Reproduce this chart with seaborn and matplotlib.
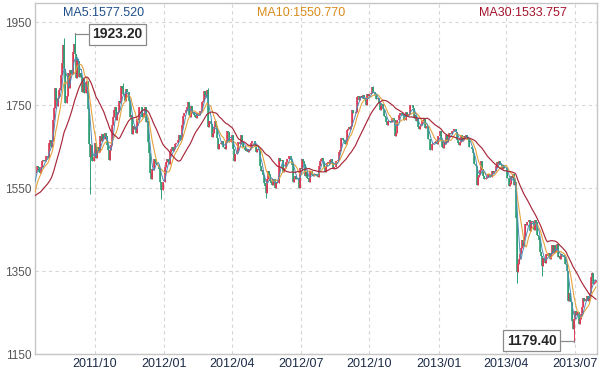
import matplotlib
matplotlib.use('Agg')
import matplotlib.pyplot as plt
import numpy as np
import pandas as pd
import seaborn as sns

# daily closes, one list per month (Mon-Fri trading days)
# June 2011 is only there so the moving averages are filled at the left edge
c_2011_06 = [1540, 1531, 1542, 1544, 1546, 1544, 1542, 1529, 1516, 1523, 1530, 1530, 1539, 1542, 1550, 1551, 1521, 1502, 1497, 1502, 1512, 1500]
c_2011_07 = [1486, 1494, 1516, 1529, 1530, 1542, 1547, 1565, 1585, 1587, 1594, 1602, 1601, 1588, 1587, 1601, 1614, 1617, 1614, 1616, 1628]
c_2011_08 = [1622, 1658, 1665, 1650, 1663, 1713, 1743, 1792, 1762, 1747, 1766, 1786, 1792, 1823, 1852, 1895, 1838, 1754, 1772, 1828, 1791, 1835, 1827]
c_2011_09 = [1826, 1879, 1898, 1874, 1816, 1861, 1856, 1817, 1828, 1818, 1781, 1812, 1779, 1806, 1807, 1741, 1657, 1625, 1653, 1616, 1616, 1624]
c_2011_10 = [1659, 1623, 1642, 1650, 1636, 1676, 1663, 1681, 1668, 1682, 1676, 1653, 1641, 1618, 1642, 1654, 1701, 1722, 1739, 1745, 1714]
c_2011_11 = [1729, 1733, 1761, 1755, 1795, 1791, 1776, 1759, 1788, 1781, 1781, 1760, 1721, 1725, 1680, 1700, 1693, 1696, 1683, 1716, 1714, 1746]
c_2011_12 = [1746, 1746, 1722, 1731, 1746, 1710, 1712, 1662, 1634, 1586, 1571, 1597, 1593, 1620, 1616, 1609, 1606, 1606, 1596, 1564, 1545, 1565]
c_2012_01 = [1565, 1600, 1613, 1620, 1616, 1609, 1637, 1644, 1649, 1640, 1645, 1656, 1659, 1658, 1665, 1677, 1665, 1701, 1723, 1730, 1731, 1739]
c_2012_02 = [1745, 1758, 1725, 1722, 1747, 1730, 1733, 1725, 1722, 1720, 1730, 1727, 1725, 1735, 1757, 1759, 1784, 1775, 1770, 1786, 1697]
c_2012_03 = [1712, 1712, 1705, 1673, 1683, 1697, 1711, 1700, 1671, 1643, 1657, 1659, 1664, 1650, 1649, 1644, 1663, 1688, 1685, 1660, 1662, 1668]
c_2012_04 = [1677, 1645, 1614, 1631, 1631, 1640, 1661, 1657, 1677, 1660, 1649, 1650, 1641, 1640, 1643, 1637, 1642, 1644, 1658, 1663, 1664]
c_2012_05 = [1663, 1653, 1637, 1645, 1641, 1603, 1592, 1594, 1581, 1561, 1555, 1538, 1573, 1591, 1585, 1567, 1562, 1558, 1572, 1573, 1549, 1564, 1562]
c_2012_06 = [1622, 1614, 1616, 1618, 1589, 1595, 1598, 1612, 1619, 1619, 1627, 1627, 1618, 1605, 1565, 1572, 1579, 1573, 1574, 1551, 1598]
c_2012_07 = [1597, 1619, 1616, 1607, 1579, 1588, 1575, 1573, 1565, 1590, 1590, 1582, 1578, 1581, 1583, 1578, 1577, 1604, 1616, 1620, 1622, 1613]
c_2012_08 = [1600, 1589, 1604, 1610, 1613, 1607, 1617, 1620, 1610, 1599, 1600, 1614, 1616, 1617, 1637, 1641, 1671, 1671, 1667, 1664, 1657, 1656, 1691]
c_2012_09 = [1692, 1696, 1692, 1700, 1738, 1730, 1731, 1734, 1770, 1772, 1762, 1770, 1771, 1767, 1774, 1764, 1763, 1751, 1777, 1773]
c_2012_10 = [1776, 1777, 1778, 1793, 1781, 1775, 1764, 1764, 1768, 1755, 1738, 1747, 1752, 1741, 1724, 1722, 1708, 1703, 1712, 1711, 1708, 1708, 1720]
c_2012_11 = [1715, 1676, 1683, 1715, 1714, 1727, 1730, 1732, 1725, 1729, 1713, 1713, 1733, 1725, 1728, 1729, 1750, 1749, 1742, 1719, 1727, 1712]
c_2012_12 = [1719, 1696, 1693, 1699, 1703, 1712, 1715, 1716, 1694, 1696, 1699, 1668, 1668, 1641, 1657, 1659, 1659, 1660, 1663, 1656, 1675]
c_2013_01 = [1675, 1687, 1665, 1649, 1646, 1661, 1655, 1677, 1661, 1669, 1682, 1680, 1687, 1687, 1692, 1692, 1685, 1667, 1659, 1653, 1662, 1677, 1663]
c_2013_02 = [1667, 1675, 1673, 1678, 1671, 1667, 1648, 1649, 1644, 1635, 1609, 1609, 1603, 1558, 1577, 1581, 1593, 1614, 1596, 1578]
c_2013_03 = [1573, 1572, 1574, 1576, 1583, 1577, 1577, 1590, 1587, 1590, 1592, 1604, 1613, 1607, 1614, 1607, 1605, 1596, 1605, 1598, 1598]
c_2013_04 = [1599, 1575, 1554, 1559, 1580, 1575, 1585, 1558, 1564, 1477, 1348, 1368, 1378, 1392, 1405, 1424, 1410, 1431, 1463, 1462, 1468, 1472]
c_2013_05 = [1446, 1467, 1470, 1468, 1450, 1473, 1469, 1436, 1434, 1425, 1395, 1386, 1363, 1382, 1378, 1370, 1392, 1386, 1393, 1379, 1391, 1413, 1393]
c_2013_06 = [1412, 1397, 1398, 1414, 1383, 1387, 1378, 1391, 1388, 1388, 1383, 1367, 1350, 1277, 1296, 1277, 1275, 1230, 1211, 1234]
c_2013_07 = [1254, 1243, 1251, 1252, 1223, 1235, 1246, 1263, 1284, 1278, 1283, 1291, 1277, 1285, 1296, 1335, 1346, 1318, 1322, 1323, 1328]

months = ['2011-06', '2011-07', '2011-08', '2011-09', '2011-10', '2011-11', '2011-12',
          '2012-01', '2012-02', '2012-03', '2012-04', '2012-05', '2012-06',
          '2012-07', '2012-08', '2012-09', '2012-10', '2012-11', '2012-12',
          '2013-01', '2013-02', '2013-03', '2013-04', '2013-05', '2013-06', '2013-07']
monthly = [c_2011_06, c_2011_07, c_2011_08, c_2011_09, c_2011_10, c_2011_11, c_2011_12,
           c_2012_01, c_2012_02, c_2012_03, c_2012_04, c_2012_05, c_2012_06,
           c_2012_07, c_2012_08, c_2012_09, c_2012_10, c_2012_11, c_2012_12,
           c_2013_01, c_2013_02, c_2013_03, c_2013_04, c_2013_05, c_2013_06, c_2013_07]

# wick extremes that stick out of the bodies
high_dates = ['2011-08-23', '2011-09-06', '2011-11-09', '2012-02-29', '2012-10-05', '2013-07-23']
high_vals = [1911, 1923.20, 1802, 1792, 1796, 1348]
low_dates = ['2011-09-26', '2011-12-29', '2012-05-16', '2013-04-15', '2013-05-17', '2013-06-28']
low_vals = [1535, 1523, 1527, 1321, 1338, 1179.40]

quarters = ['2011-10', '2012-01', '2012-04', '2012-07', '2012-10', '2013-01', '2013-04', '2013-07']
ma_labels = ['MA5:1577.520', 'MA10:1550.770', 'MA30:1533.757']

frames = []
for m, vals in zip(months, monthly):
    start = pd.Timestamp(m + '-01')
    days = pd.bdate_range(start, start + pd.offsets.MonthEnd(0))[:len(vals)]
    frames.append(pd.DataFrame({'date': days, 'close': vals}))
df = pd.concat(frames, ignore_index=True)
df['i'] = np.arange(len(df))
# spot market: each day opens where the previous one closed
df['open'] = df['close'].shift(1).fillna(df['close'])
df['high'] = df[['open', 'close']].max(axis=1)
df['low'] = df[['open', 'close']].min(axis=1)
df = df.set_index('date', drop=False)
df.loc[pd.to_datetime(high_dates), 'high'] = high_vals
df.loc[pd.to_datetime(low_dates), 'low'] = low_vals
df = df.reset_index(drop=True)
df['ma5'] = df['close'].rolling(5).mean()
df['ma10'] = df['close'].rolling(10).mean()
df['ma30'] = df['close'].rolling(30).mean()

sns.set_style('white')
plt.rcParams['font.family'] = ['Liberation Sans', 'DejaVu Sans']

fig = plt.figure(figsize=(6, 3.71), dpi=100)
ax = fig.add_axes([35 / 600, 17 / 371, 562 / 600, 351 / 371])

up = df['close'] >= df['open']
red, green = '#d93a55', '#2f9e74'
cols = np.where(up, red, green)
ax.vlines(df['i'], df['low'], df['high'], colors=cols, lw=0.7, zorder=2)
ax.vlines(df['i'], df['open'], df['close'], colors=cols, lw=1.2, zorder=2)

sns.lineplot(data=df, x='i', y='ma30', color='#a8283a', lw=0.85, ax=ax, zorder=4)
sns.lineplot(data=df, x='i', y='ma10', color='#e6a33e', lw=0.8, ax=ax, zorder=3)
sns.lineplot(data=df, x='i', y='ma5', color='#4a8cb8', lw=0.7, ax=ax, zorder=3)

tick_idx = [int(df.index[df['date'] >= pd.Timestamp(q + '-01')][0]) for q in quarters]
ax.set_xticks(tick_idx)
ax.set_xticklabels([q.replace('-', '/') for q in quarters], fontsize=9, color='#1c2b48')
ax.set_xlim(tick_idx[0] - 56.9, tick_idx[-1] + 20.9)
ax.set_ylim(1150, 1996)
ax.set_yticks([1150, 1350, 1550, 1750, 1950])
ax.tick_params(axis='y', labelsize=8.5, labelcolor='#555555', length=0, pad=2.5)
ax.tick_params(axis='x', length=0, pad=3)
ax.set_xlabel('')
ax.set_ylabel('')
ax.grid(True, ls=(0, (3, 3)), color='#d6d6d6', lw=0.8)
ax.set_axisbelow(True)
for s in ax.spines.values():
    s.set_color('#c6c6c6')
    s.set_linewidth(1)

hi_i = int(df.index[df['date'] == pd.Timestamp(high_dates[1])][0])
lo_i = int(df.index[df['date'] == pd.Timestamp(low_dates[-1])][0])
box = dict(boxstyle='square,pad=0.25', fc='white', ec='#8a8a8a', lw=0.9)
line = dict(arrowstyle='-', color='#8a8a8a', lw=0.9, shrinkA=0, shrinkB=0,
            connectionstyle='angle,angleA=0,angleB=90,rad=0')
ax.annotate(f'{high_vals[1]:.2f}', xy=(hi_i, high_vals[1]), xytext=(hi_i + 40, 1921),
            ha='center', va='center', fontsize=10, fontweight='bold', bbox=box, arrowprops=line, zorder=6)
ax.annotate(f'{low_vals[-1]:.2f}', xy=(lo_i, low_vals[-1]), xytext=(lo_i - 40, 1182),
            ha='center', va='center', fontsize=10, fontweight='bold', bbox=box, arrowprops=line, zorder=6)

for txt, xc, col in zip(ma_labels, [104, 301, 523], ['#1f4f8a', '#d98a1c', '#a3142c']):
    fig.text(xc / 600, 1 - 12.5 / 371, txt, ha='center', va='center', fontsize=9, color=col)

fig.savefig('out.png', dpi=100)
